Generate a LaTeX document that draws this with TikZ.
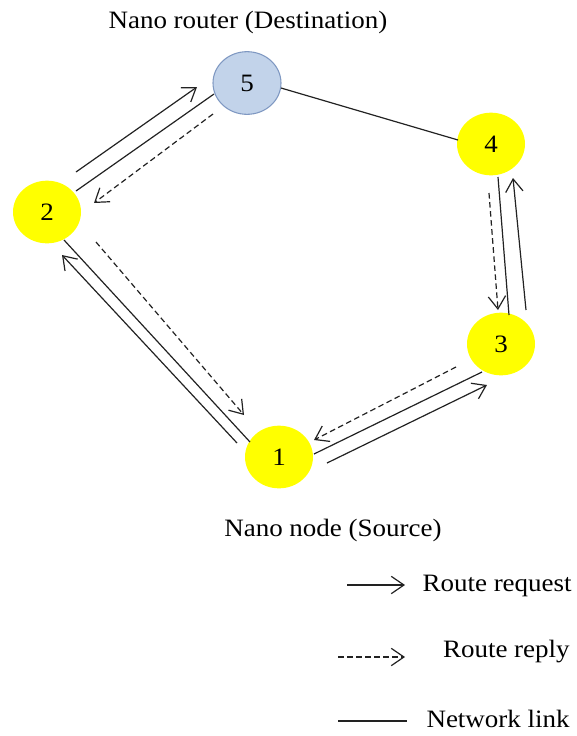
\documentclass[tikz,border=0pt]{standalone}
\usepackage{fontspec}
\setmainfont[FakeStretch=1.08]{Liberation Serif}
\usetikzlibrary{arrows.meta,calc,shapes.geometric}
\definecolor{nodeyellow}{HTML}{FFFF00}
\definecolor{routerblue}{HTML}{C2D3EA}
\definecolor{routerrim}{HTML}{7F98C2}
\definecolor{linkgray}{HTML}{222222}

\begin{document}
\begin{tikzpicture}[x=0.75pt, y=-0.75pt, >={Straight Barb[length=9.5pt,width=13pt]},
    nano/.style={ellipse, fill=nodeyellow, minimum width=51pt, minimum height=47pt,
        inner sep=0pt, font=\fontsize{18.75}{22}\selectfont},
    router/.style={nano, fill=routerblue, draw=routerrim, line width=0.8pt},
    link/.style={linkgray, line width=0.9pt},
    request/.style={link, ->},
    reply/.style={link, ->, dash pattern=on 4.2pt off 2.6pt},
    caption/.style={font=\fontsize{18.75}{22}\selectfont, inner sep=0pt, anchor=base}]
    \useasboundingbox (0,0) rectangle (576,736);

    \node[nano] (n1) at (279,457) {1};
    \node[nano] (n2) at (47,212) {2};
    \node[nano] (n3) at (501,344) {3};
    \node[nano] (n4) at (491,144) {4};
    \node[router] (n5) at (247,83) {5};

    \node[caption] (dest) at (248,28) {Nano router (Destination)};
    \node[caption] (src) at (333,536) {Nano node (Source)};

    \draw[link] ($(n2)+(29,-21)$) -- ($(n5)+(-33,11)$);
    \draw[link] ($(n5)+(34,5)$) -- ($(n4)+(-33,-4)$);
    \draw[link] ($(n4)+(7,33)$) -- ($(n3)+(8,-29)$);
    \draw[link] ($(n3)+(-19,28)$) -- ($(n1)+(35,-3)$);
    \draw[link] ($(n1)+(-29,-15)$) -- ($(n2)+(17,28)$);

    \draw[request] ($(n1)+(-42,-14)$) -- ($(n2)+(15,43)$);
    \draw[request] ($(n2)+(29,-40)$) -- ($(n5)+(-50,4)$);
    \draw[request] ($(n1)+(48,6)$) -- ($(n3)+(-14,41)$);
    \draw[request] ($(n3)+(25,-34)$) -- ($(n4)+(22,34)$);

    \draw[reply] ($(n5)+(-34,31)$) -- ($(n2)+(47,-9)$);
    \draw[reply] ($(n2)+(49,30)$) -- ($(n1)+(-35,-42)$);
    \draw[reply] ($(n4)+(-2,49)$) -- ($(n3)+(-3,-34)$);
    \draw[reply] ($(n3)+(-45,23)$) -- ($(n1)+(35,-17)$);

    \coordinate (rq0) at (347,585);
    \coordinate (rq1) at (405,585);
    \coordinate (rp0) at (338,657);
    \coordinate (rp1) at (405,657);
    \coordinate (nl0) at (338,721);
    \coordinate (nl1) at (407,721);
    \draw[request] (rq0) -- (rq1);
    \draw[reply] (rp0) -- (rp1);
    \draw[link] (nl0) -- (nl1);
    \node[caption, anchor=base east] (rqtext) at (572,591) {Route request};
    \node[caption, anchor=base east] (rptext) at (570,657) {Route reply};
    \node[caption, anchor=base east] (nltext) at (570,727) {Network link};
\end{tikzpicture}
\end{document}
